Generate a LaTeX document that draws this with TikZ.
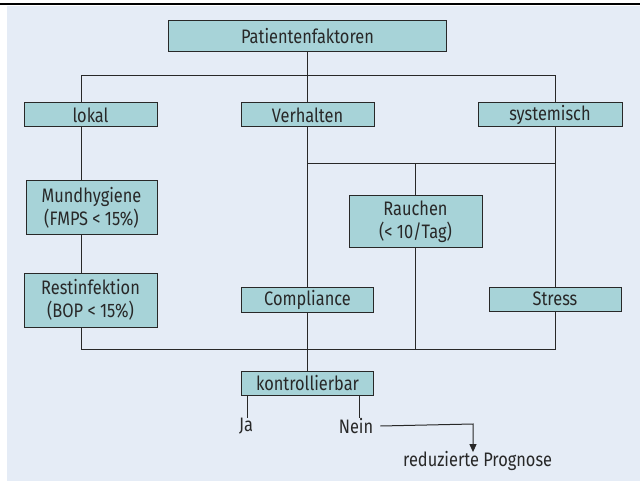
\documentclass[tikz,border=0pt]{standalone}
\usepackage{fontspec}
\setmainfont[FakeStretch=0.84]{Fira Sans}
\usetikzlibrary{arrows.meta}
\definecolor{panel}{RGB}{229,236,246}
\definecolor{boxfill}{RGB}{167,211,216}
\definecolor{ink}{RGB}{40,40,40}
\tikzset{
  fbox/.style={draw=ink, line width=1pt, fill=boxfill, text=ink, inner sep=0pt, align=center, font=\fontsize{19.5}{23.5}\selectfont},
  lbl/.style={text=ink, inner sep=0pt, font=\fontsize{19.5}{22}\selectfont},
  conn/.style={draw=ink, line width=1pt},
}
\begin{document}
\begin{tikzpicture}[x=1pt,y=-1pt]
\useasboundingbox (0,0) rectangle (640,481);
\fill[panel] (7,6) rectangle (640,481);
\draw[black, line width=2pt] (0,4) -- (640,4);

\node[fbox, minimum width=278, minimum height=31] (P) at (307.5,36.5) {Patientenfaktoren};
\node[fbox, minimum width=133, minimum height=24] (lokal) at (90.5,115) {lokal};
\node[fbox, minimum width=133, minimum height=24] (verh) at (307.5,115) {Verhalten};
\node[fbox, minimum width=144, minimum height=24] (sys) at (550,115) {systemisch};
\node[fbox, minimum width=131, minimum height=54] (mund) at (91.5,208) {Mundhygiene\\(FMPS < 15\%)};
\node[fbox, minimum width=133, minimum height=54] (rest) at (90.5,300) {Restinfektion\\(BOP < 15\%)};
\node[fbox, minimum width=133, minimum height=52] (rauch) at (415.5,222) {Rauchen\\(< 10/Tag)};
\node[fbox, minimum width=132, minimum height=25] (comp) at (307.5,299.5) {Compliance};
\node[fbox, minimum width=132, minimum height=24] (stress) at (555,299) {Stress};
\node[fbox, minimum width=132, minimum height=24] (kontr) at (307.5,383) {kontrollierbar};

\node[lbl] (ja) at (246,426) {Ja};
\node[lbl] (nein) at (356,426) {Nein};
\node[lbl, anchor=west] (prog) at (403,461) {reduzierte Prognose};

\coordinate (hL) at (81,76);
\coordinate (hR) at (555,76);
\coordinate (m1) at (307.5,164);
\coordinate (m2) at (555,164);
\coordinate (bL) at (81,349);
\coordinate (bR) at (555,349);
\coordinate (ac) at (473,424);

\draw[conn] (P.south) -- (verh.north);
\draw[conn] (hL |- lokal.north) -- (hL) -- (hR) -- (hR |- sys.north);
\draw[conn] (hL |- lokal.south) -- (hL |- mund.north);
\draw[conn] (hL |- mund.south) -- (hL |- rest.north);
\draw[conn] (hL |- rest.south) -- (bL) -- (bR) -- (bR |- stress.south);
\draw[conn] (hR |- sys.south) -- (hR |- stress.north);
\draw[conn] (verh.south) -- (comp.north);
\draw[conn] (comp.south) -- (kontr.north);
\draw[conn] (m1) -- (m2);
\draw[conn] (rauch.north |- m1) -- (rauch.north);
\draw[conn] (rauch.south) -- (rauch.south |- bL);
\draw[conn] ([xshift=1pt]ja.north |- kontr.south) -- ([xshift=1pt]ja.north);
\draw[conn] ([xshift=3pt]nein.north |- kontr.south) -- ([xshift=3pt]nein.north);
\draw[conn, -{Triangle[length=8pt,width=7pt]}] ([xshift=7pt]nein.east) -- (ac) -- ([yshift=-1pt]ac |- prog.north);
\end{tikzpicture}
\end{document}
